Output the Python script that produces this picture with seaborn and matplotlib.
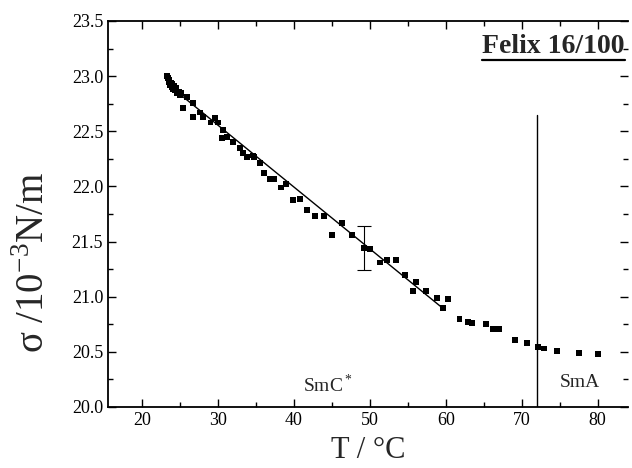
"""Surface tension of Felix 16/100 vs temperature (SmC* -> SmA)."""
import matplotlib; matplotlib.use('Agg')
import matplotlib.pyplot as plt
from matplotlib.ticker import MultipleLocator
import numpy as np
import pandas as pd
import seaborn as sns

temp = [23.3, 23.4, 23.5, 23.6, 23.7, 23.8, 23.9, 24.0, 24.1, 24.2, 24.3, 24.5, 24.6, 24.8, 25.0, 25.1,
        25.4, 25.9, 26.7, 26.7, 27.6, 28.0, 29.0, 29.6, 30.0, 30.7, 30.5, 31.2, 32.0, 32.9,
        33.3, 33.8, 34.6, 34.7, 35.5, 36.1, 36.8, 37.4, 38.3, 38.9, 39.9, 40.8, 41.7, 42.8,
        44.0, 45.0, 46.3, 47.6, 49.2, 50.0, 51.3, 52.3, 53.4, 54.6, 56.1, 55.7, 57.4, 58.8,
        60.3, 59.6, 61.8, 62.9, 63.5, 65.3, 66.2, 67.0, 69.1, 70.7, 72.1, 72.9, 74.7, 77.5, 80.1]
sigma = [23.00, 22.98, 22.95, 22.97, 22.92, 22.94, 22.90, 22.93, 22.88, 22.91, 22.87, 22.89, 22.85, 22.86, 22.83, 22.85,
         22.71, 22.81, 22.76, 22.63, 22.67, 22.63, 22.58, 22.62, 22.58, 22.51, 22.44, 22.45, 22.40, 22.35,
         22.30, 22.27, 22.28, 22.27, 22.21, 22.12, 22.07, 22.07, 21.99, 22.02, 21.88, 21.89, 21.79, 21.73,
         21.73, 21.56, 21.67, 21.56, 21.44, 21.43, 21.31, 21.33, 21.33, 21.20, 21.13, 21.05, 21.05, 20.99,
         20.98, 20.90, 20.80, 20.77, 20.76, 20.75, 20.71, 20.71, 20.61, 20.58, 20.54, 20.53, 20.51, 20.49, 20.48]

# linear fit in SmC* phase
fit_t = [23.3, 59.7]
fit_s = [22.93, 20.89]

# representative error bar
err_t = [49.2]
err_s = [21.44]
err_e = [0.20]

# phase transition
t_trans = 72.0
trans_top = 22.65

df = pd.DataFrame({'T': temp, 'sigma': sigma})
fit_df = pd.DataFrame({'T': fit_t, 'sigma': fit_s})

sns.set_theme(style='ticks')
plt.rcParams['font.family'] = ['Liberation Serif', 'DejaVu Serif']
plt.rcParams['mathtext.fontset'] = 'custom'
plt.rcParams['mathtext.rm'] = 'Liberation Serif'

fig = plt.figure(figsize=(6.32, 4.68), dpi=100)
ax = fig.add_axes([108/632, 1 - 407/468, 520/632, 386/468])

sns.lineplot(data=fit_df, x='T', y='sigma', color='black', lw=1.0, ax=ax)
sns.scatterplot(data=df, x='T', y='sigma', marker='s', s=18, color='black', edgecolor='none', ax=ax, zorder=3)
ax.errorbar(err_t, err_s, yerr=err_e, fmt='none', ecolor='black', elinewidth=0.8, capsize=5, capthick=0.8)
ax.plot([t_trans, t_trans], [20.0, trans_top], color='black', lw=1.0)

ax.set_xlim(15.5, 84)
ax.set_ylim(20.0, 23.5)
ax.xaxis.set_major_locator(MultipleLocator(10))
ax.xaxis.set_minor_locator(MultipleLocator(5))
ax.yaxis.set_major_locator(MultipleLocator(0.5))
ax.yaxis.set_minor_locator(MultipleLocator(0.25))
ax.yaxis.set_major_formatter(plt.FormatStrFormatter('%.1f'))
ax.tick_params(which='both', direction='in', top=True, right=True, labelsize=13, colors='black')
ax.tick_params(which='major', length=6, width=1)
ax.tick_params(which='minor', length=3.5, width=1)
for side in ['left', 'bottom', 'top']:
    ax.spines[side].set_linewidth(1.3)
    ax.spines[side].set_color('black')
ax.spines['right'].set_visible(False)

ax.set_xlabel('T / °C', fontsize=22, labelpad=5)
ax.set_ylabel('σ /10$^{\\mathrm{-3}}$N/m', fontsize=28)
ax.yaxis.set_label_coords(-0.105, 0.375)

ax.text(44.5, 20.2, r'SmC$^*$', fontsize=14, ha='center', va='center')
ax.text(77.6, 20.22, 'SmA', fontsize=14, ha='center', va='center')
ax.text(83.6, 23.27, 'Felix 16/100', fontsize=20, fontweight='bold', ha='right', va='center')
ax.plot([64.8, 83.6], [23.15, 23.15], color='black', lw=1.6)

fig.savefig('out.png', dpi=100)
